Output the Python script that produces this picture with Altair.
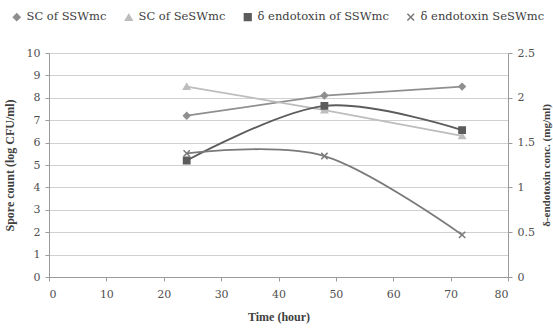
import altair as alt
import pandas as pd

times = [24, 48, 72]
series_names = ["SC of SSWmc", "SC of SeSWmc", "δ endotoxin of SSWmc", "δ endotoxin SeSWmc"]
sc_sswmc = [7.2, 8.1, 8.5]
sc_seswmc = [8.5, 7.45, 6.3]
endo_sswmc = [1.3, 1.91, 1.64]
endo_seswmc = [1.38, 1.35, 0.47]

colors = ["#8f8f8f", "#bdbdbd", "#5c5c5c", "#7a7a7a"]
shapes = ["diamond", "triangle-up", "square", "M-1,-1L1,1M-1,1L1,-1"]

rows = []
for s, vals in zip(series_names, [sc_sswmc, sc_seswmc, endo_sswmc, endo_seswmc]):
    for t, v in zip(times, vals):
        rows.append({"time": t, "series": s, "value": v})
df = pd.DataFrame(rows)

FONT = "Liberation Serif"
LFONT = "DejaVu Serif"
color_scale = alt.Scale(domain=series_names, range=colors)
shape_scale = alt.Scale(domain=series_names, range=shapes)

x_enc = alt.X("time:Q", scale=alt.Scale(domain=[0, 80]),
              axis=alt.Axis(values=list(range(0, 81, 10)), title="Time (hour)",
                            grid=False, tickSize=4, labelPadding=7, titlePadding=12))

legend = alt.Legend(title=None, orient="none", direction="horizontal",
                    legendX=-42, legendY=-42)


def side(names, domain, axis, interp):
    sub = df[df["series"].isin(names)]
    base = alt.Chart(sub)
    y = alt.Y("value:Q", scale=alt.Scale(domain=domain), axis=axis)
    line = base.mark_line(strokeWidth=1.8, interpolate=interp).encode(
        x=x_enc, y=y,
        color=alt.Color("series:N", scale=color_scale, legend=legend),
        detail="series:N")
    pts = base.mark_point(filled=True, size=40, strokeWidth=1.5, opacity=1).encode(
        x=x_enc, y=y,
        color=alt.Color("series:N", scale=color_scale, legend=legend),
        stroke=alt.Stroke("series:N", scale=color_scale, legend=legend),
        shape=alt.Shape("series:N", scale=shape_scale, legend=legend))
    return alt.layer(line, pts)


left_axis = alt.Axis(values=list(range(0, 11)), title="Spore count (log CFU/ml)",
                     grid=True, gridColor="#d0d0d0", tickSize=4, titlePadding=10,
                     labelPadding=5)
right_axis = alt.Axis(orient="right", values=[0, 0.5, 1, 1.5, 2, 2.5],
                      title="δ-endotoxin conc. (mg/ml)", grid=False, tickSize=4,
                      titleAngle=270, titleBaseline="top", titlePadding=6,
                      labelPadding=5, titleFontSize=11, format="~g")

left = side(series_names[:2], [0, 10], left_axis, "linear")
right = side(series_names[2:], [0, 2.5], right_axis, "cardinal")

chart = alt.layer(left, right).resolve_scale(y="independent").properties(
    width=459, height=224,
    autosize=alt.AutoSizeParams(type="none"),
    padding={"left": 49, "top": 53, "right": 45, "bottom": 54},
    background="white",
).configure_axis(
    labelFont=LFONT, labelFontSize=11, labelColor="#505050",
    titleFont=FONT, titleFontSize=12, titleColor="#404040", titleFontWeight="bold",
    domainColor="#9a9a9a", tickColor="#9a9a9a",
).configure_legend(
    labelFont=LFONT, labelFontSize=11.5, labelColor="#404040",
    symbolSize=45, symbolStrokeWidth=1.5, columnPadding=12,
    labelOffset=4, symbolOffset=4,
).configure_view(stroke=None)

chart.save("out.html", embed_options={"renderer": "svg", "actions": False})
